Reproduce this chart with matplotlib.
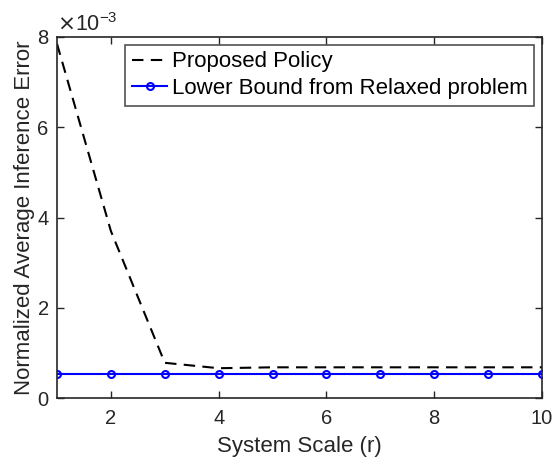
import matplotlib
matplotlib.use("Agg")
import matplotlib.pyplot as plt
from matplotlib.ticker import FuncFormatter

plt.rcParams['font.family'] = ['Liberation Sans', 'DejaVu Sans']

r = [1, 2, 3, 4, 5, 6, 7, 8, 9, 10]
proposed = [7.85e-3, 3.7e-3, 0.78e-3, 0.66e-3, 0.68e-3, 0.68e-3, 0.68e-3, 0.68e-3, 0.68e-3, 0.68e-3]
lower_bound = [0.54e-3] * 10
xticks = [2, 4, 6, 8, 10]
yticks = [0, 2e-3, 4e-3, 6e-3, 8e-3]

dark = '#262626'
fs_tick = 14.5
fs_lab = 16
fs_leg = 16

fig = plt.figure(figsize=(5.54, 4.66), dpi=100)
ax = fig.add_axes([57/554, 1-398/466, (542-57)/554, (398-37)/466])

ax.plot(r, proposed, linestyle=(0, (5.5, 3.5)), color='black', linewidth=1.5, label='Proposed Policy')
ax.plot(r, lower_bound, '-o', color='#0000ff', linewidth=1.5, markersize=5,
        markerfacecolor='none', markeredgewidth=1.5, label='Lower Bound from Relaxed problem')

ax.set_xlim(1, 10)
ax.set_ylim(0, 8e-3)
ax.set_xticks(xticks)
ax.set_yticks(yticks)
ax.yaxis.set_major_formatter(FuncFormatter(lambda v, p: f"{v*1e3:g}"))
ax.tick_params(direction='in', top=True, right=True, length=5, width=1, colors=dark,
               labelsize=fs_tick, labelcolor=dark)
ax.tick_params(axis='x', pad=8)
ax.tick_params(axis='y', pad=6)
for s in ax.spines.values():
    s.set_color(dark)
    s.set_linewidth(1.2)

ax.set_xlabel('System Scale (r)', fontsize=fs_lab, color=dark, labelpad=6)
ax.set_ylabel('Normalized Average Inference Error', fontsize=fs_lab, color=dark, labelpad=2)
ax.text(0.0, 1.003, r'$\times$10$^{\mathregular{-3}}$', transform=ax.transAxes, fontsize=15.5,
        color=dark, ha='left', va='bottom')

leg = ax.legend(loc='upper right', fontsize=fs_leg, frameon=True, fancybox=False, edgecolor=dark,
                borderaxespad=0.35, handlelength=1.6, handletextpad=0.2, borderpad=0.3,
                labelspacing=0.25)
leg.get_frame().set_linewidth(1.2)

fig.savefig('out.png', dpi=100)
